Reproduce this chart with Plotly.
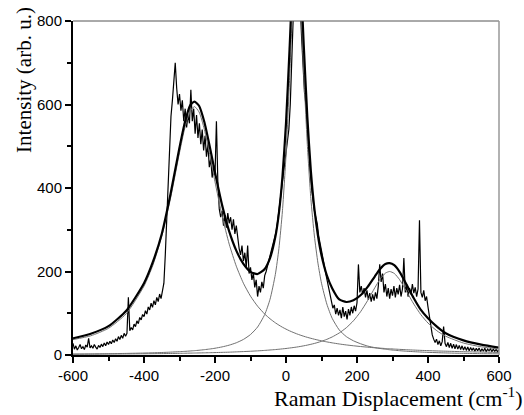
import plotly.graph_objects as go

# ---------------- measured spectrum (every 4 cm^-1 from -600 to 600) ----------------
spectrum_x = list(range(-600, 601, 4))
spectrum_y = [
    28, 14, 22, 12, 18, 25, 15, 20, 13, 24,          # -600 .. -564
    19, 40, 17, 22, 16, 25, 19, 14, 23, 18,          # -560 .. -524
    26, 20, 29, 22, 31, 25, 33, 27, 36, 30,          # -520 .. -484
    39, 33, 44, 37, 47, 40, 52, 45, 52, 138,         # -480 .. -444
    58, 66, 60, 74, 68, 82, 75, 90, 84, 97,          # -440 .. -404
    92, 106, 98, 115, 108, 124, 114, 130, 120, 138,  # -400 .. -364
    128, 146, 135, 160, 172, 240, 330, 420, 500, 572,  # -360 .. -324
    610, 650, 700, 640, 600, 625, 585, 610, 560, 590,  # -320 .. -284
    545, 575, 555, 635, 560, 590, 530, 575, 520, 555,  # -280 .. -244
    505, 540, 490, 525, 475, 505, 450, 470, 425, 455,  # -240 .. -204
    430, 560, 415, 350, 330, 345, 310, 335, 305, 340,  # -200 .. -164
    315, 330, 300, 325, 290, 310, 280, 255, 240, 262,  # -160 .. -124
    225, 245, 210, 262, 195, 210, 180, 196, 162, 180,  # -120 .. -84
    140, 165, 150, 175, 160, 190, 200, 215, 232, 240,  # -80 .. -44
    255, 268, 280, 295, 318, 345, 365, 400, 420, 450,  # -40 .. -4
    475, 505, 540, 600, 720, 850, 950, 1000, 980, 920,  # 0 .. 36
    840, 760, 690, 630, 600, 540, 490, 440, 400, 365,  # 40 .. 76
    345, 330, 315, 285, 262, 250, 232, 210, 195, 178,  # 80 .. 116
    162, 145, 128, 112, 120, 98, 112, 95, 108, 88,     # 120 .. 156
    115, 92, 105, 85, 110, 95, 115, 100, 118, 105,     # 160 .. 196
    125, 217, 150, 165, 145, 160, 138, 155, 132, 148,  # 200 .. 236
    128, 145, 130, 150, 135, 165, 217, 175, 195, 150,  # 240 .. 276
    170, 140, 160, 135, 158, 142, 165, 138, 160, 145,  # 280 .. 316
    168, 140, 158, 232, 150, 165, 140, 160, 145, 170,  # 320 .. 356
    148, 162, 140, 158, 323, 150, 138, 155, 130, 140,  # 360 .. 396
    115, 90, 68, 48, 38, 30, 38, 25, 34, 22,           # 400 .. 436
    32, 68, 28, 20, 30, 18, 28, 16, 26, 15,            # 440 .. 476
    25, 14, 23, 13, 22, 12, 20, 11, 19, 10,            # 480 .. 516
    18, 11, 17, 9, 16, 10, 17, 8, 15, 9,               # 520 .. 556
    16, 8, 14, 10, 15, 8, 14, 9, 13, 8,                # 560 .. 596
    12,                                                # 600
]

# ---------------- fitted curves ----------------
fit_x = [-600, -550, -500, -450, -400, -375, -350, -325, -300, -285,
         -270, -258, -245, -230, -215, -200, -180, -160, -140, -120,
         -100, -80, -60, -45, -30, -20, -10, 0, 10, 20,
         30, 40, 50, 60, 70, 80, 90, 100, 115, 130,
         150, 170, 190, 210, 230, 250, 265, 280, 292, 305,
         320, 340, 360, 380, 400, 425, 450, 500, 550, 600]

peak1 = [36.9, 46, 64, 99, 165.1, 215.0, 284.3, 376.7, 484.6, 543.8,
         584.1, 595, 582.3, 540.3, 480.3, 414.8, 333.2, 265.6, 212.7, 172.0,
         140.9, 116.9, 98.1, 86.8, 77.1, 71.6, 66.5, 62.0, 57.9, 54.2,
         50.8, 47.7, 44.9, 42.3, 40.0, 37.8, 35.8, 33.9, 31.4, 29.1,
         26.4, 24.1, 22.1, 20.3, 18.7, 17.3, 16.4, 15.5, 14.9, 14.2,
         13.5, 12.6, 11.8, 11.1, 10.5, 9.7, 9.1, 7.9, 7.0, 6.2]

peak2 = [2.2, 2.6, 3.1, 3.8, 4.7, 5.3, 6.0, 6.9, 8.0, 8.7,
         9.6, 10.4, 11.4, 12.8, 14.3, 16.2, 19.4, 23.6, 29.3, 37.3,
         49.0, 67.1, 96.8, 133.4, 193.0, 254.9, 345.5, 477.7, 657.3, 848.7,
         940, 855, 675, 505, 375, 285, 220, 172, 122, 88,
         60, 44, 34, 27, 21.4, 17.7, 15.6, 13.8, 12.6, 11.4,
         10.3, 9.0, 8.0, 7.1, 6.3, 5.6, 4.9, 3.9, 3.2, 2.7]

peak3 = [1.8, 2.0, 2.3, 2.6, 3.0, 3.2, 3.4, 3.7, 4.0, 4.2,
         4.5, 4.7, 4.9, 5.2, 5.5, 5.8, 6.3, 6.8, 7.5, 8.2,
         9.0, 9.9, 11.0, 12.0, 13.0, 13.8, 14.7, 15.6, 16.7, 17.8,
         19.0, 20.4, 22.0, 23.7, 25.6, 27.7, 30.1, 32.8, 37.5, 43.2,
         52.8, 65.4, 82.0, 103.6, 130.5, 160.8, 181.7, 196.1, 200, 195.4,
         180.4, 151.6, 122.0, 96.5, 76.5, 58.0, 44.9, 28.6, 19.6, 14.2]

fit_total = [40, 51, 69, 106, 172, 223, 290, 387, 497, 557,
             598, 607, 597, 558, 500, 437, 359, 296, 250, 218,
             199, 194, 206, 232, 283, 340, 427, 555, 732, 921,
             1010, 924, 742, 571, 441, 350, 286, 239, 191, 160,
             133, 127, 131, 143, 163, 188, 206, 218, 220, 215,
             199, 168, 136, 108, 88, 68, 52, 35, 25, 18]

x_ticks = [-600, -400, -200, 0, 200, 400, 600]
x_ticklabels = ["-600", "-400", "-200", "0", "200", "400", "600"]
y_ticks = [0, 200, 400, 600, 800]
y_ticklabels = ["0", "200", "400", "600", "800"]

fig = go.Figure()

fig.add_trace(go.Scatter(x=spectrum_x, y=spectrum_y, mode="lines",
                         line=dict(color="black", width=1.2)))
for comp in (peak1, peak2, peak3):
    fig.add_trace(go.Scatter(x=fit_x, y=comp, mode="lines",
                             line=dict(color="#707070", width=1, shape="spline", smoothing=0.6)))
fig.add_trace(go.Scatter(x=fit_x, y=fit_total, mode="lines",
                         line=dict(color="black", width=2.2, shape="spline", smoothing=0.6)))

tickfont = dict(family="Liberation Sans, Arial, sans-serif", size=15, color="black")
axis_common = dict(showgrid=False, zeroline=False, showline=True, linewidth=2,
                   linecolor="black", ticks="outside", ticklen=6, tickwidth=2,
                   tickcolor="black", tickfont=tickfont, tickmode="array")

fig.update_layout(
    width=524, height=415,
    margin=dict(l=73, r=14, t=15, b=60),
    paper_bgcolor="white", plot_bgcolor="white",
    showlegend=False,
    xaxis=dict(range=[-600, 600], tickvals=x_ticks, ticktext=x_ticklabels,
               minor=dict(dtick=100, tick0=-600, ticks="outside", ticklen=4,
                          tickwidth=2, tickcolor="black"),
               **axis_common),
    yaxis=dict(range=[0, 800], tickvals=y_ticks, ticktext=y_ticklabels,
               minor=dict(dtick=100, tick0=0, ticks="outside", ticklen=4,
                          tickwidth=2, tickcolor="black"),
               **axis_common),
    shapes=[
        dict(type="line", xref="paper", yref="paper", x0=0, x1=1, y0=1, y1=1,
             line=dict(color="#555555", width=1)),
        dict(type="line", xref="paper", yref="paper", x0=1, x1=1, y0=0, y1=1,
             line=dict(color="#999999", width=1.5)),
    ],
    annotations=[
        dict(text="Intensity (arb. u.)", xref="paper", yref="paper",
             x=-0.114, y=0.825, xanchor="center", yanchor="middle", textangle=-90,
             showarrow=False,
             font=dict(family="Liberation Serif, Times New Roman, serif", size=21, color="black")),
        dict(text="Raman Displacement (cm<sup>-1</sup>)", xref="paper", yref="paper",
             x=1.062, y=-0.125, xanchor="right", yanchor="middle",
             showarrow=False,
             font=dict(family="Liberation Serif, Times New Roman, serif", size=22, color="black")),
    ],
)

fig.write_html("out.html")
